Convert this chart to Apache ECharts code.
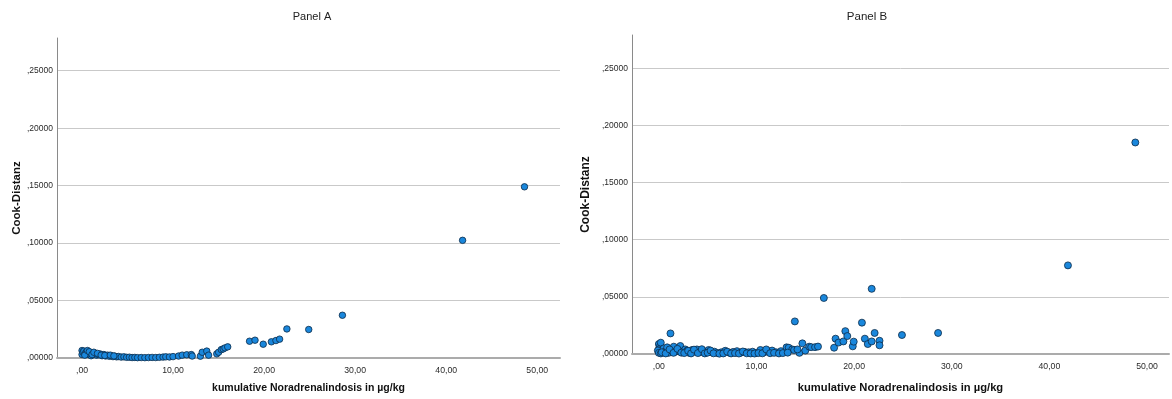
<!DOCTYPE html>
<html>
<head>
<meta charset="utf-8">
<script src="https://cdn.jsdelivr.net/npm/echarts@6/dist/echarts.min.js"></script>
<style>
html,body{margin:0;padding:0;background:#fff;}
#chart{width:1172px;height:399px;}
</style>
</head>
<body>
<div id="chart"></div>
<script>
// ---- data ----
const titles = ['Panel A', 'Panel B'];
const xName = 'kumulative Noradrenalindosis in µg/kg';
const yName = 'Cook-Distanz';
const xTicks = [0, 10, 20, 30, 40, 50];
const yTicks = [0, 0.05, 0.10, 0.15, 0.20, 0.25];

const panelA_x = [0.0,0.0,0.1,0.2,0.4,0.5,0.7,0.9,1.0,1.2,1.4,1.6,1.8,2.0,2.2,2.4,2.6,2.8,3.0,3.2,3.4,3.6,3.8,4.0,4.3,4.6,4.9,5.2,5.5,5.8,6.1,6.5,6.9,7.3,7.7,8.1,8.5,8.9,9.2,9.6,10.0,10.6,11.0,11.5,12.0,12.1,13.0,13.2,13.7,13.9,14.8,15.0,15.3,15.5,15.7,16.0,18.4,19.0,19.9,20.8,21.3,21.7,22.5,24.9,28.6,41.8,48.6,
  0.3,0.6,0.8,1.1,1.3,1.7,2.1,2.5,3.1,3.5];
const panelA_y = [0.0065,0.0030,0.0050,0.0060,0.0045,0.0055,0.0030,0.0045,0.0020,0.0040,0.0035,0.0025,0.0030,0.0035,0.0020,0.0030,0.0018,0.0025,0.0015,0.0020,0.0012,0.0016,0.0010,0.0013,0.0008,0.0010,0.0006,0.0007,0.0004,0.0005,0.0003,0.0004,0.0003,0.0004,0.0005,0.0004,0.0006,0.0008,0.0010,0.0009,0.0012,0.0017,0.0025,0.0028,0.0030,0.0017,0.0016,0.0050,0.0060,0.0025,0.0036,0.0050,0.0073,0.0079,0.0088,0.0097,0.0146,0.0155,0.0120,0.0141,0.0152,0.0164,0.0253,0.0248,0.0372,0.1024,0.1490,
  0.0025,0.0065,0.0055,0.0030,0.0050,0.0040,0.0025,0.0022,0.0025,0.0018];

const panelB_x = [0.0,0.1,0.2,0.0,0.1,-0.1,0.0,0.2,0.5,0.6,0.85,1.0,1.19,1.3,1.53,1.7,2.0,2.2,2.4,2.7,2.9,3.1,3.4,3.7,3.9,4.2,4.5,4.8,5.1,5.4,5.7,6.0,6.4,6.8,7.2,7.6,8.0,8.4,8.8,9.2,9.6,10.0,10.4,10.8,11.2,11.6,12.0,12.5,13.08,13.3,13.66,13.93,13.85,14.4,14.2,14.7,15.0,15.4,15.6,16.0,16.3,16.9,17.95,18.1,18.4,18.9,19.1,19.3,19.86,19.96,20.8,21.1,21.4,21.8,21.8,22.1,22.6,22.6,24.9,28.6,41.9,48.8,
  0.3,0.7,1.1,1.5,1.9,2.3,2.6,3.0,3.3,3.6,4.0,4.4,4.7,5.0,5.3,5.6,6.2,6.6,7.0,7.4,7.8,8.2,8.6,9.0,9.4,9.8,10.2,10.6,11.0,11.4,11.8,12.3,12.7,13.2];
const panelB_y = [0.0087,0.0064,0.0099,0.0040,0.0020,0.0030,0.0010,0.0005,0.0049,0.0020,0.0058,0.0010,0.0180,0.0030,0.0064,0.0020,0.0035,0.0070,0.0020,0.0040,0.0030,0.0010,0.0035,0.0020,0.0040,0.0015,0.0030,0.0010,0.0035,0.0015,0.0020,0.0008,0.0015,0.0028,0.0012,0.0018,0.0025,0.0012,0.0018,0.0015,0.0020,0.0010,0.0035,0.0015,0.0025,0.0030,0.0015,0.0025,0.0058,0.0055,0.0040,0.0285,0.0035,0.0010,0.0040,0.0093,0.0030,0.0064,0.0060,0.0060,0.0065,0.0490,0.0055,0.0134,0.0100,0.0110,0.0200,0.0157,0.0067,0.0108,0.0274,0.0134,0.0087,0.0570,0.0110,0.0184,0.0116,0.0076,0.0166,0.0184,0.0775,0.1850,
  0.0015,0.0005,0.0040,0.0010,0.0045,0.0012,0.0008,0.0028,0.0005,0.0038,0.0008,0.0042,0.0005,0.0012,0.0030,0.0006,0.0003,0.0005,0.0020,0.0005,0.0008,0.0004,0.0022,0.0006,0.0005,0.0004,0.0008,0.0006,0.0040,0.0007,0.0010,0.0005,0.0008,0.0012];

// ---- helpers ----
function pairs(xs, ys){ return xs.map((x,i)=>[x, ys[i]]); }
function fmtY(v){
  if (!yTicks.some(t => Math.abs(t - v) < 1e-9)) return '';
  return v.toFixed(5).replace(/^0/, '').replace('.', ',');
}
function fmtX(v){
  if (!xTicks.some(t => Math.abs(t - v) < 1e-9)) return '';
  return v.toFixed(2).replace(/^0\./, '.').replace('.', ',');
}
const FONT = '"Liberation Sans", Arial, sans-serif';

function makeX(idx, min, max, nameSize, gap){
  return {
    gridIndex: idx, type: 'value', min: min, max: max, interval: 0.25,
    name: xName, nameLocation: 'middle', nameGap: gap,
    nameTextStyle: {fontFamily: FONT, fontWeight: 'bold', fontSize: nameSize, color: '#111'},
    axisLine: {show: true, onZero: false, lineStyle: {color: '#ababab', width: 2}},
    axisTick: {show: false},
    splitLine: {show: false},
    axisLabel: {formatter: fmtX, fontFamily: FONT, fontSize: 8.7, color: '#2a2a2a', margin: 8}
  };
}
function makeY(idx, max, nameSize, gap){
  return {
    gridIndex: idx, type: 'value', min: 0, max: max, interval: 0.05,
    name: yName, nameLocation: 'middle', nameGap: gap,
    nameTextStyle: {fontFamily: FONT, fontWeight: 'bold', fontSize: nameSize, color: '#111'},
    axisLine: {show: true, onZero: false, lineStyle: {color: '#8a8a8a', width: 1}},
    axisTick: {show: false},
    splitLine: {show: true, showMinLine: false, showMaxLine: false, lineStyle: {color: '#c9c9c9', width: 1}},
    axisLabel: {formatter: fmtY, fontFamily: FONT, fontSize: 8.5, color: '#2a2a2a', margin: 4}
  };
}
const pointStyle = {color: '#1a87dc', borderColor: '#0c2b48', borderWidth: 0.8, opacity: 1};

const option = {
  animation: false,
  backgroundColor: '#ffffff',
  title: [
    {text: titles[0], left: 307, top: 6, textAlign: 'center',
     textStyle: {fontFamily: FONT, fontSize: 11, fontWeight: 'normal', color: '#222'}},
    {text: titles[1], left: 862, top: 6, textAlign: 'center',
     textStyle: {fontFamily: FONT, fontSize: 11.5, fontWeight: 'normal', color: '#222'}}
  ],
  grid: [
    {left: 57, right: 612, top: 38, bottom: 40.5, containLabel: false},
    {left: 632, right: 0, top: 35, bottom: 45, containLabel: false}
  ],
  xAxis: [makeX(0, -2.75, 52.5, 10.5, 25), makeX(1, -2.75, 52.25, 11.2, 28)],
  yAxis: [makeY(0, 0.2785, 11.5, 34), makeY(1, 0.279, 12, 40)],
  series: [
    {type: 'scatter', xAxisIndex: 0, yAxisIndex: 0, data: pairs(panelA_x, panelA_y),
     symbol: 'circle', symbolSize: 6.5, itemStyle: pointStyle, silent: true},
    {type: 'scatter', xAxisIndex: 1, yAxisIndex: 1, data: pairs(panelB_x, panelB_y),
     symbol: 'circle', symbolSize: 7, itemStyle: pointStyle, silent: true}
  ]
};
const chart = echarts.init(document.getElementById('chart'), null, {renderer: 'canvas'});
chart.setOption(option);
</script>
</body>
</html>
